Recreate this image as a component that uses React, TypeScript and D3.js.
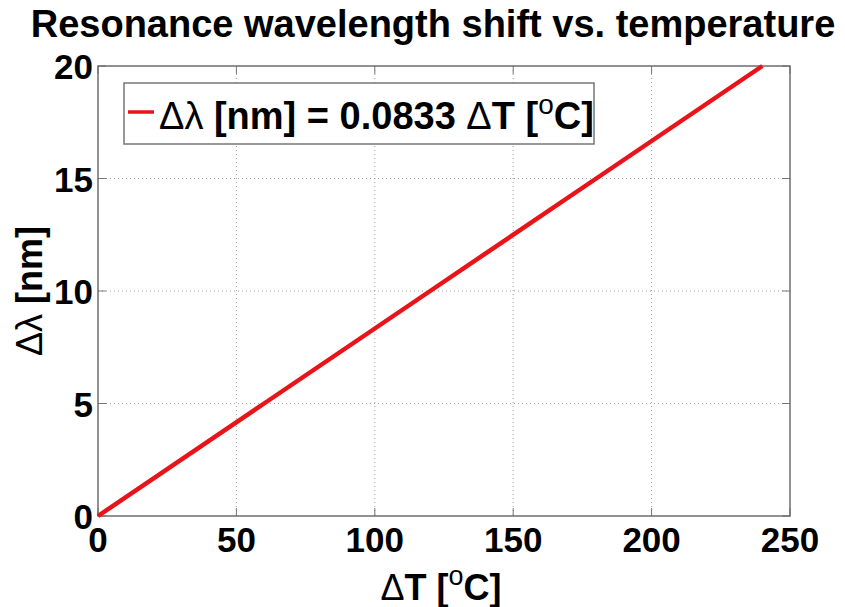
import React from "react";
import * as d3 from "d3";

const xTicks = [0, 50, 100, 150, 200, 250];
const yTicks = [0, 5, 10, 15, 20];
const deltaT = [0, 60, 120, 180, 240];
const deltaLambda = [0, 5, 10, 15, 20];

const W = 845;
const H = 607;
const M = { left: 98, right: 790, top: 66, bottom: 516 };
const FONT = "'Liberation Sans', Arial, sans-serif";

const Sym = ({ children }: { children: React.ReactNode }) => (
  <tspan fontWeight="normal">{children}</tspan>
);

export default function App() {
  const x = d3.scaleLinear().domain([0, 250]).range([M.left, M.right]);
  const y = d3.scaleLinear().domain([0, 20]).range([M.bottom, M.top]);
  const line = d3
    .line<number>()
    .x((_, i) => x(deltaT[i]))
    .y((d) => y(d));
  const pathD = line(deltaLambda) || "";
  const tickLen = 8;

  return (
    <svg
      width={W}
      height={H}
      style={{ position: "absolute", left: 0, top: 0, background: "#fff" }}
      fontFamily={FONT}
      fontWeight="bold"
    >
      <rect x={0} y={0} width={W} height={H} fill="#fff" />
      {/* grid */}
      {xTicks.slice(1, -1).map((t) => (
        <line
          key={"gx" + t}
          x1={x(t)}
          x2={x(t)}
          y1={M.top}
          y2={M.bottom}
          stroke="#a0a0a0"
          strokeWidth={1}
          strokeDasharray="1,3"
        />
      ))}
      {yTicks.slice(1, -1).map((t) => (
        <line
          key={"gy" + t}
          x1={M.left}
          x2={M.right}
          y1={y(t)}
          y2={y(t)}
          stroke="#a0a0a0"
          strokeWidth={1}
          strokeDasharray="1,3"
        />
      ))}
      {/* ticks */}
      {xTicks.map((t) => (
        <g key={"tx" + t}>
          <line x1={x(t)} x2={x(t)} y1={M.bottom} y2={M.bottom - tickLen} stroke="#777" />
          <line x1={x(t)} x2={x(t)} y1={M.top} y2={M.top + tickLen} stroke="#777" />
          <text x={x(t)} y={552} textAnchor="middle" fontSize={35} fill="#000">
            {t}
          </text>
        </g>
      ))}
      {yTicks.map((t) => (
        <g key={"ty" + t}>
          <line x1={M.left} x2={M.left + tickLen} y1={y(t)} y2={y(t)} stroke="#777" />
          <line x1={M.right} x2={M.right - tickLen} y1={y(t)} y2={y(t)} stroke="#777" />
          <text x={93} y={y(t) + 13} textAnchor="end" fontSize={35} fill="#000">
            {t}
          </text>
        </g>
      ))}
      {/* box */}
      <rect
        x={M.left}
        y={M.top}
        width={M.right - M.left}
        height={M.bottom - M.top}
        fill="none"
        stroke="#6e6e6e"
        strokeWidth={1.5}
      />
      {/* data line */}
      <path d={pathD} fill="none" stroke="#e8141a" strokeWidth={4.5} />
      {/* legend */}
      <rect x={124} y={83} width={470} height={61} fill="#fff" stroke="#777" strokeWidth={1.5} />
      <line x1={128} x2={154} y1={112} y2={112} stroke="#e8141a" strokeWidth={3.5} />
      <text x={159} y={129} fontSize={38} fill="#000">
        <Sym>Δλ</Sym> [nm] = 0.0833 <Sym>Δ</Sym>T [
        <tspan fontSize={28} fontWeight="normal" dy={-15}>o</tspan>
        <tspan dy={15}>C]</tspan>
      </text>
      {/* title */}
      <text x={433} y={37} textAnchor="middle" fontSize={38} fill="#000">
        Resonance wavelength shift vs. temperature
      </text>
      {/* x label */}
      <text x={441} y={600} textAnchor="middle" fontSize={36} fill="#000">
        <Sym>Δ</Sym>T [
        <tspan fontSize={27} fontWeight="normal" dy={-15}>o</tspan>
        <tspan dy={15}>C]</tspan>
      </text>
      {/* y label */}
      <text
        transform={`translate(42, ${(M.top + M.bottom) / 2}) rotate(-90)`}
        textAnchor="middle"
        fontSize={36}
        fill="#000"
      >
        <Sym>Δλ</Sym> [nm]
      </text>
    </svg>
  );
}
